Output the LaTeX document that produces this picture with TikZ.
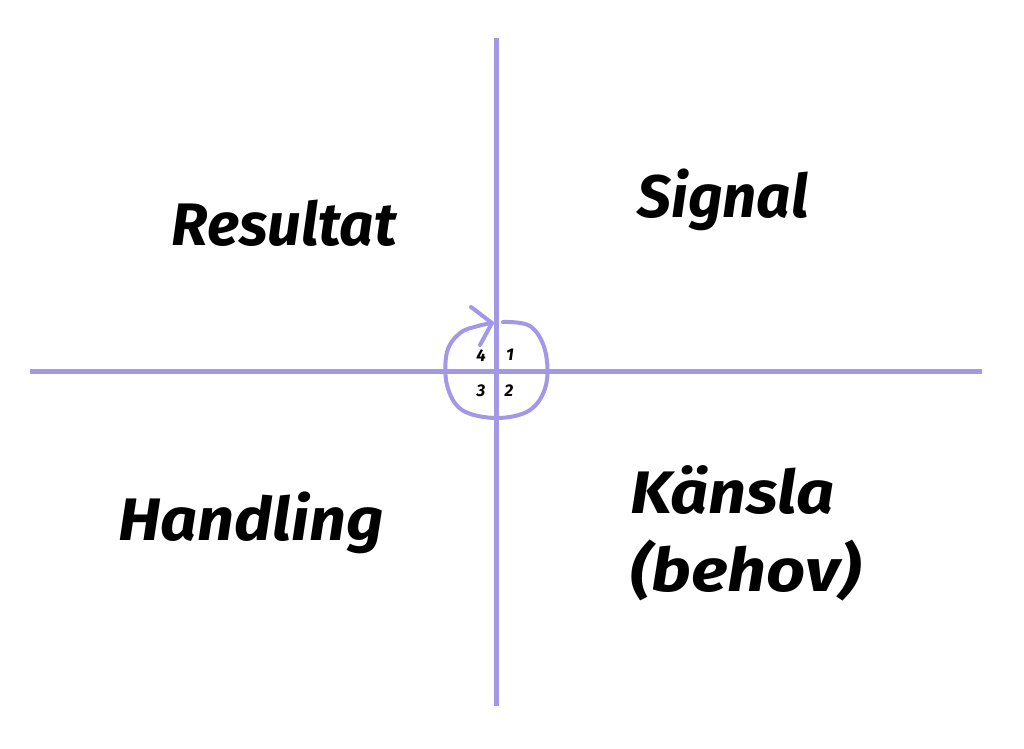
\documentclass[tikz,border=0pt]{standalone}
\usepackage{fontspec}
\setmainfont{Fira Sans}[BoldItalicFont={* Bold Italic}]
\newfontfamily\widea{Fira Sans}[UprightFont={* Bold Italic},FakeStretch=1.08]
\newfontfamily\wideb{Fira Sans}[UprightFont={* Bold Italic},FakeStretch=1.11]
\newfontfamily\widec{Fira Sans}[UprightFont={* Bold Italic},FakeStretch=1.14]
\definecolor{lav}{RGB}{163,152,230}
\begin{document}
\begin{tikzpicture}[x=1pt,y=-1pt,
  axis/.style={draw=lav,line width=5pt},
  loop/.style={draw=lav,line width=4pt,line cap=round,line join=round},
  word/.style={font=\fontsize{60}{66}\selectfont\bfseries\itshape,inner sep=0pt},
  num/.style={font=\fontsize{17}{19}\selectfont\bfseries\itshape,inner sep=0pt}]
\useasboundingbox[fill=white] (0,0) rectangle (1024,748);
\coordinate (top) at (496,38);
\coordinate (bot) at (496,706);
\coordinate (lft) at (30,371);
\coordinate (rgt) at (982,371);
\draw[axis] (top) -- (bot);
\draw[axis] (lft) -- (rgt);
\draw[loop] plot[smooth,tension=0.6] coordinates {(503,322) (530,326) (545,350) (546,385) (530,410) (497,418) (462,410) (447,385) (447,352) (460,333) (478,326) (492,323)};
\draw[loop] (471,307) -- (492,323) -- (480,345);
\node[num] (n4) at (481,356) {4};
\node[num] (n1) at (510,355) {1};
\node[num] (n3) at (481,391) {3};
\node[num] (n2) at (509,391) {2};
\node[word] (res) at (284,223) {Resultat};
\node[word] (sig) at (723,200) {Signal};
\node[word,font=\fontsize{60}{66}\selectfont\widea] (han) at (251,523) {Handling};
\node[word,anchor=west,font=\fontsize{60}{66}\selectfont\wideb] (kan) at (630,490) {Känsla};
\node[word,anchor=west,font=\fontsize{60}{66}\selectfont\widec] (beh) at (630,570) {(behov)};
\end{tikzpicture}
\end{document}
